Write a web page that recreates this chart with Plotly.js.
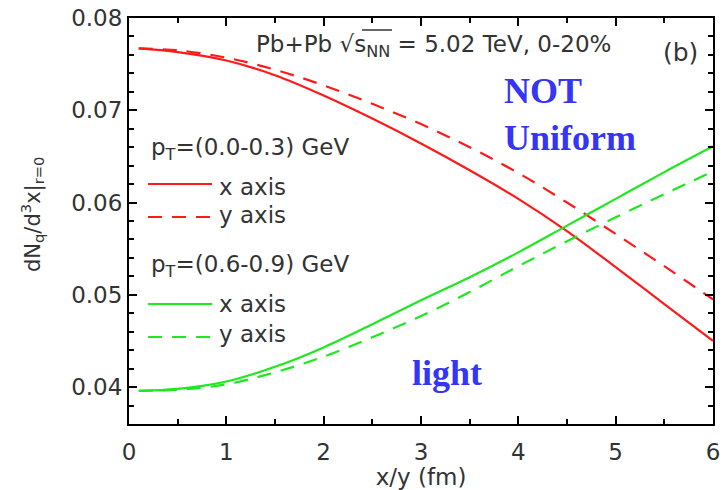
<!DOCTYPE html>
<html>
<head>
<meta charset="utf-8">
<script src="https://cdn.plot.ly/plotly-3.0.1.min.js"></script>
<style>html,body{margin:0;padding:0;background:#fff;}#chart{width:724px;height:490px;}</style>
</head>
<body>
<div id="chart"></div>
<script>
// Positions along x or y (fm)
const xPos = [0.1, 0.5, 1.0, 1.5, 2.0, 2.5, 3.0, 3.5, 4.0, 4.5, 5.0, 5.5, 6.0];
// pT = (0.0-0.3) GeV
const lowPtX = [0.0767, 0.0763, 0.0754, 0.0738, 0.0716, 0.0691, 0.0664, 0.0635, 0.0604, 0.0569, 0.0530, 0.0490, 0.0450];
const lowPtY = [0.0767, 0.0765, 0.0757, 0.0744, 0.0727, 0.0707, 0.0685, 0.0660, 0.0632, 0.0600, 0.0566, 0.0531, 0.0495];
// pT = (0.6-0.9) GeV
const highPtX = [0.0396, 0.0398, 0.0406, 0.0422, 0.0443, 0.0468, 0.0494, 0.0519, 0.0546, 0.0575, 0.0604, 0.0633, 0.0661];
const highPtY = [0.0396, 0.0397, 0.0403, 0.0416, 0.0433, 0.0454, 0.0477, 0.0503, 0.0531, 0.0558, 0.0584, 0.0609, 0.0634];

const xTicks = [0, 1, 2, 3, 4, 5, 6];
const yTicks = [0.04, 0.05, 0.06, 0.07, 0.08];
const yTickText = ['0.04', '0.05', '0.06', '0.07', '0.08'];

const RED = '#ff1a1a';
const GREEN = '#1ee81e';
const DASH = '14px,10px';

const traces = [
  {x: xPos, y: lowPtX, mode: 'lines', line: {color: RED, width: 2.2, shape: 'spline', smoothing: 1}, name: 'x axis (0.0-0.3)'},
  {x: xPos, y: lowPtY, mode: 'lines', line: {color: RED, width: 2.2, dash: DASH, shape: 'spline', smoothing: 1}, name: 'y axis (0.0-0.3)'},
  {x: xPos, y: highPtX, mode: 'lines', line: {color: GREEN, width: 2.2, shape: 'spline', smoothing: 1}, name: 'x axis (0.6-0.9)'},
  {x: xPos, y: highPtY, mode: 'lines', line: {color: GREEN, width: 2.2, dash: DASH, shape: 'spline', smoothing: 1}, name: 'y axis (0.6-0.9)'}
];

const FONT = 'DejaVu Sans, sans-serif';
const TXT = '#333';
const BLUE = '#3535f5';

function px(x) { return (x - 129) / 584; }
function py(y) { return (424 - y) / 406; }

const annotations = [
  {text: 'Pb+Pb √s<sub>NN</sub> = 5.02 TeV, 0-20%', x: px(433), y: py(46), xanchor: 'center', yanchor: 'middle',
   font: {family: FONT, size: 23, color: TXT}},
  {text: '(b)', x: px(680), y: py(52), xanchor: 'center', yanchor: 'middle', font: {family: FONT, size: 25, color: TXT}},
  {text: '<b>NOT</b>', x: px(502), y: py(91), xanchor: 'left', yanchor: 'middle', font: {family: 'Liberation Serif, Times New Roman, serif', size: 36, color: BLUE}},
  {text: '<b>Uniform</b>', x: px(502), y: py(138), xanchor: 'left', yanchor: 'middle', font: {family: 'Liberation Serif, Times New Roman, serif', size: 36, color: BLUE}},
  {text: '<b>light</b>', x: px(410), y: py(373), xanchor: 'left', yanchor: 'middle', font: {family: 'Liberation Serif, Times New Roman, serif', size: 36, color: BLUE}},
  {text: 'p<sub>T</sub>=(0.0-0.3) GeV', x: px(149), y: py(149), xanchor: 'left', yanchor: 'middle', font: {family: FONT, size: 23, color: TXT}},
  {text: 'x axis', x: px(217), y: py(187), xanchor: 'left', yanchor: 'middle', font: {family: FONT, size: 23, color: TXT}},
  {text: 'y axis', x: px(217), y: py(215), xanchor: 'left', yanchor: 'middle', font: {family: FONT, size: 23, color: TXT}},
  {text: 'p<sub>T</sub>=(0.6-0.9) GeV', x: px(149), y: py(266), xanchor: 'left', yanchor: 'middle', font: {family: FONT, size: 23, color: TXT}},
  {text: 'x axis', x: px(217), y: py(304), xanchor: 'left', yanchor: 'middle', font: {family: FONT, size: 23, color: TXT}},
  {text: 'y axis', x: px(217), y: py(334), xanchor: 'left', yanchor: 'middle', font: {family: FONT, size: 23, color: TXT}},
  {text: 'dN<sub>q</sub>/d<sup>3</sup>x|<sub>r=0</sub>', x: px(32), y: py(215), xanchor: 'center', yanchor: 'middle', textangle: -90,
   font: {family: FONT, size: 21, color: TXT}}
].map(a => Object.assign({xref: 'paper', yref: 'paper', showarrow: false}, a));

const shapes = [
  {x0: px(148), x1: px(212), y0: py(184), y1: py(184), line: {color: RED, width: 2.2}},
  {x0: px(148), x1: px(212), y0: py(217), y1: py(217), line: {color: RED, width: 2.2, dash: DASH}},
  {x0: px(148), x1: px(212), y0: py(304), y1: py(304), line: {color: GREEN, width: 2.2}},
  {x0: px(148), x1: px(212), y0: py(337), y1: py(337), line: {color: GREEN, width: 2.2, dash: DASH}},
  {x0: px(362), x1: px(392), y0: py(30), y1: py(30), line: {color: TXT, width: 1.5}}
].map(s => Object.assign({type: 'line', xref: 'paper', yref: 'paper'}, s));

const layout = {
  width: 724, height: 490,
  margin: {l: 129, r: 11, t: 18, b: 66},
  paper_bgcolor: '#fff', plot_bgcolor: '#fff',
  showlegend: false,
  xaxis: {
    range: [0, 6], tickvals: xTicks, ticks: 'inside', ticklen: 8, tickwidth: 2, tickcolor: '#000',
    showline: true, linecolor: '#000', linewidth: 2, mirror: 'ticks', showgrid: false, zeroline: false,
    ticklabelstandoff: 6,
    tickfont: {family: FONT, size: 23, color: TXT},
    minor: {dtick: 0.5, ticks: 'inside', ticklen: 5, tickwidth: 2, tickcolor: '#000', showgrid: false},
    title: {text: 'x/y (fm)', font: {family: FONT, size: 23, color: TXT}, standoff: 12}
  },
  yaxis: {
    range: [0.036, 0.08], tickvals: yTicks, ticktext: yTickText, ticks: 'inside', ticklen: 8, tickwidth: 2, tickcolor: '#000',
    showline: true, linecolor: '#000', linewidth: 2, mirror: 'ticks', showgrid: false, zeroline: false,
    tickfont: {family: FONT, size: 23, color: TXT},
    minor: {dtick: 0.002, ticks: 'inside', ticklen: 5, tickwidth: 2, tickcolor: '#000', showgrid: false}
  },
  annotations: annotations,
  shapes: shapes
};

Plotly.newPlot('chart', traces, layout, {displayModeBar: false, staticPlot: true});
</script>
</body>
</html>
